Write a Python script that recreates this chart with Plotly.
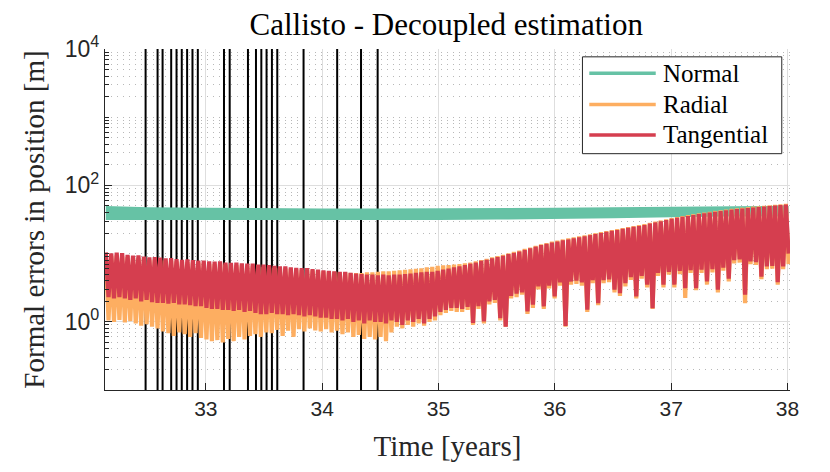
import numpy as np
import plotly.graph_objects as go

# time span of the formal-error history [years]
t_start, t_end = 32.14, 38.01

# Callisto flyby epochs [years]
flyby_times = [32.482, 32.585, 32.628, 32.702, 32.748, 32.793, 32.839, 32.885, 32.931,
               33.156, 33.205, 33.362, 33.431, 33.477, 33.522, 33.568, 33.614, 33.840,
               34.129, 34.334, 34.477]

# normal component: envelope of the (very dense) oscillation [m]
normal_t = [32.14, 32.5, 33.0, 33.5, 34.0, 34.5, 35.0, 35.5, 36.0, 36.5, 37.0, 37.5, 38.01]
normal_hi = [50, 48, 47, 46, 46, 46, 46, 46.5, 47, 48, 49, 50, 50]
normal_lo = [31, 31, 30.5, 30.5, 30.5, 31, 31, 31.5, 32, 33, 34, 35, 35]

# tangential component: peak and trough of each orbit [m]
tan_hi = [10.4, 10.1, 10.3, 10.2, 9.6, 9.3, 9.4, 9.0, 8.8, 8.9,
          8.7, 8.5, 8.6, 8.3, 8.1, 8.2, 8.0, 7.9, 7.9, 7.7,
          7.6, 7.7, 7.4, 7.3, 7.4, 7.2, 7.1, 7.1, 6.9, 6.9,
          6.8, 6.6, 6.5, 6.5, 6.3, 6.2, 6.1, 6.1, 5.9, 5.8,
          5.7, 5.6, 5.5, 5.4, 5.4, 5.2, 5.1, 5.0, 4.9, 4.9,
          4.8, 4.9, 4.8, 4.9, 4.9, 5.0, 5.1, 5.2, 5.3, 5.4,
          5.4, 5.6, 5.8, 6.0, 6.3, 6.5, 6.8, 7.1, 7.4, 7.8,
          8.1, 8.5, 8.9, 9.3, 9.8, 10.2, 10.7, 11.3, 11.9, 12.6,
          13.3, 13.9, 14.5, 15.0, 15.6, 16.1, 16.7, 17.3, 17.9, 18.6,
          19.3, 20.0, 20.8, 21.5, 22.2, 23.0, 23.8, 24.6, 25.4, 26.2,
          27.5, 28.6, 29.8, 31.0, 32.2, 33.4, 34.5, 35.6, 36.8, 37.9,
          39.0, 40.0, 41.0, 42.0, 43.0, 44.0, 45.0, 45.8, 46.6, 47.4,
          48.2, 49.0, 49.8, 50.6, 51.4, 52.2]
tan_lo = [2.3, 2.2, 2.3, 2.2, 2.1, 2.2, 2.0, 2.1, 1.95, 1.9,
          1.9, 1.85, 1.9, 1.8, 1.8, 1.75, 1.7, 1.7, 1.6, 1.55,
          1.55, 1.5, 1.5, 1.45, 1.5, 1.4, 1.45, 1.35, 1.3, 1.3,
          1.35, 1.3, 1.3, 1.25, 1.3, 1.25, 1.2, 1.25, 1.2, 1.15,
          1.15, 1.1, 1.1, 1.05, 1.1, 1.0, 1.05, 0.95, 1.05, 1.0,
          1.0, 0.95, 1.05, 1.0, 0.9, 1.05, 1.0, 1.1, 0.95, 1.1,
          1.2, 1.4, 1.5, 1.6, 1.6, 1.55, 1.65, 0.96, 1.7, 1.01,
          2.0, 2.1, 1.13, 0.85, 2.4, 2.6, 2.7, 1.42, 1.78, 3.3,
          1.68, 3.4, 2.36, 3.8, 0.87, 3.9, 4.0, 3.8, 1.5, 4.1,
          1.88, 4.1, 4.2, 2.95, 2.64, 3.7, 4.5, 2.36, 4.7, 3.5,
          1.59, 5.2, 3.5, 5.4, 3.5, 5.6, 3.1, 5.7, 3.1, 5.8,
          3.9, 5.9, 2.95, 6.2, 4.3, 8.0, 8.2, 2.5, 7.7, 7.5,
          4.6, 6.5, 6.6, 3.8, 6.5, 10.0]

# radial component: peak and trough of each orbit [m]
rad_hi = [9.5, 9.3, 9.4, 9.2, 8.9, 8.6, 8.7, 8.3, 8.2, 8.2,
          8.0, 7.9, 7.9, 7.7, 7.5, 7.6, 7.4, 7.3, 7.3, 7.1,
          7.0, 7.1, 6.9, 6.8, 6.8, 6.7, 6.6, 6.6, 6.4, 6.4,
          6.3, 6.2, 6.1, 6.1, 6.0, 5.9, 5.8, 5.8, 5.7, 5.6,
          5.5, 5.4, 5.4, 5.3, 5.3, 5.2, 5.2, 5.2, 5.3, 5.3,
          5.4, 5.5, 5.5, 5.6, 5.7, 5.8, 5.9, 6.0, 6.1, 6.3,
          6.4, 6.6, 6.7, 6.8, 6.9, 7.0, 7.2, 7.4, 7.7, 8.0,
          8.4, 8.8, 9.2, 9.6, 10.1, 10.6, 11.1, 11.7, 12.3, 13.0,
          13.7, 14.3, 15.0, 15.5, 16.1, 16.7, 17.3, 17.9, 18.5, 19.2,
          19.9, 20.6, 21.4, 22.1, 22.9, 23.7, 24.5, 25.3, 26.2, 27.0,
          28.3, 29.4, 30.6, 31.9, 33.1, 34.3, 35.5, 36.6, 37.8, 39.0,
          40.1, 41.1, 42.2, 43.2, 44.2, 45.2, 46.2, 47.1, 47.9, 48.7,
          49.5, 50.3, 51.1, 51.9, 52.7, 53.5]
rad_lo = [1.05, 1.0, 1.07, 0.98, 1.02, 0.95, 0.88, 0.92, 0.85, 0.8,
          0.72, 0.68, 0.62, 0.7, 0.66, 0.6, 0.68, 0.58, 0.55, 0.52,
          0.54, 0.5, 0.56, 0.52, 0.6, 0.55, 0.62, 0.66, 0.6, 0.7,
          0.68, 0.76, 0.62, 0.74, 0.6, 0.78, 0.72, 0.8, 0.75, 0.72,
          0.78, 0.7, 0.74, 0.66, 0.7, 0.6, 0.64, 0.56, 0.6, 0.55,
          0.6, 0.52, 0.7, 0.85, 0.8, 0.9, 0.85, 0.95, 0.88, 1.0,
          1.05, 1.25, 1.35, 1.45, 1.4, 1.4, 1.5, 0.9, 1.55, 0.95,
          1.8, 1.9, 1.05, 0.85, 2.2, 2.3, 2.5, 1.3, 1.6, 3.0,
          1.55, 3.1, 2.2, 3.4, 0.85, 3.5, 3.6, 3.4, 1.4, 3.7,
          1.75, 3.7, 3.8, 2.7, 2.4, 3.3, 4.1, 2.2, 4.3, 3.2,
          1.55, 4.7, 3.2, 4.9, 3.2, 5.0, 2.23, 5.2, 2.9, 5.2,
          3.5, 5.3, 2.7, 5.6, 3.9, 7.2, 7.4, 1.88, 7.0, 6.8,
          4.2, 5.9, 6.0, 3.5, 5.9, 7.0]

legend_names = ["Normal", "Radial", "Tangential"]
colors = ["#66c2a5", "#fdae61", "#d53e4f"]

serif = "Liberation Serif"
sans = "Liberation Sans"
axcol = "#262626"


def zigzag(hi, lo):
    # alternate orbit peaks and troughs on a regular time grid
    t = np.linspace(t_start, t_end, 2 * len(hi))
    y = np.empty(2 * len(hi))
    y[0::2] = hi
    y[1::2] = lo
    return t, y


fig = go.Figure()

# flyby markers
vx, vy = [], []
for tf in flyby_times:
    vx += [tf, tf, None]
    vy += [0.1, 1e4, None]
fig.add_trace(go.Scatter(x=vx, y=vy, mode="lines", line=dict(color="black", width=2),
                         hoverinfo="skip", showlegend=False))

# normal band
fig.add_trace(go.Scatter(x=normal_t, y=normal_lo, mode="lines", line=dict(width=0, color=colors[0]),
                         showlegend=False, hoverinfo="skip"))
fig.add_trace(go.Scatter(x=normal_t, y=normal_hi, mode="lines", line=dict(width=0, color=colors[0]),
                         fill="tonexty", fillcolor=colors[0], name="Normal", showlegend=False))

tr, yr = zigzag(rad_hi, rad_lo)
fig.add_trace(go.Scatter(x=tr, y=yr, mode="lines", line=dict(color=colors[1], width=4.2),
                         name="Radial", showlegend=False))
tt, yt = zigzag(tan_hi, tan_lo)
fig.add_trace(go.Scatter(x=tt, y=yt, mode="lines", line=dict(color=colors[2], width=4.2),
                         name="Tangential", showlegend=False))

# legend drawn in paper coordinates, MATLAB style
shapes = [dict(type="rect", xref="paper", yref="paper", x0=0.697, x1=0.988, y0=0.693, y1=0.977,
               fillcolor="white", line=dict(color=axcol, width=1), layer="above")]
annotations = []
for name, col, ly in zip(legend_names, colors, [0.929, 0.837, 0.748]):
    shapes.append(dict(type="line", xref="paper", yref="paper", x0=0.707, x1=0.804, y0=ly, y1=ly,
                       line=dict(color=col, width=3.5), layer="above"))
    annotations.append(dict(text=name, xref="paper", yref="paper", x=0.811, y=ly,
                            xanchor="left", yanchor="middle", showarrow=False,
                            font=dict(family=serif, size=25, color="black")))

minor_vals = [m * 10.0 ** e for e in range(-1, 4) for m in range(2, 10)] + [10, 1000]

fig.update_layout(
    width=830, height=472,
    margin=dict(l=97, r=48, t=41, b=90),
    paper_bgcolor="white", plot_bgcolor="white",
    title=dict(text="Callisto - Decoupled estimation", x=0.528, xanchor="center",
               y=0.966, yanchor="middle", yref="container",
               font=dict(family=serif, size=31, color="black")),
    shapes=shapes, annotations=annotations,
    showlegend=False,
)
fig.update_xaxes(
    range=[32.133, 38.022], tickvals=[33, 34, 35, 36, 37, 38],
    ticks="inside", ticklen=7, tickcolor=axcol, tickwidth=1,
    showline=True, linecolor=axcol, linewidth=1.2, mirror=False,
    showgrid=True, gridcolor="#dedede", gridwidth=1, zeroline=False,
    tickfont=dict(family=sans, size=21, color=axcol), automargin=False,
    title=dict(text="Time [years]", font=dict(family=serif, size=29, color=axcol), standoff=16),
)
fig.update_yaxes(
    type="log", range=[-1, 4],
    tickvals=[1, 100, 10000], ticktext=["10<sup>0</sup>", "10<sup>2</sup>", "10<sup>4</sup>"],
    ticks="inside", ticklen=7, tickcolor=axcol, tickwidth=1,
    showline=True, linecolor=axcol, linewidth=1.2, mirror=False,
    showgrid=True, gridcolor="#dedede", gridwidth=1, zeroline=False,
    minor=dict(tickvals=minor_vals, ticks="inside", ticklen=4, tickcolor=axcol,
               showgrid=True, gridcolor="#b8b8b8", griddash="1px,5px", gridwidth=1),
    tickfont=dict(family=sans, size=23, color=axcol), automargin=False,
    title=dict(text="Formal errors in position [m]", font=dict(family=serif, size=29, color=axcol),
               standoff=11),
)

fig.write_html("out.html")
